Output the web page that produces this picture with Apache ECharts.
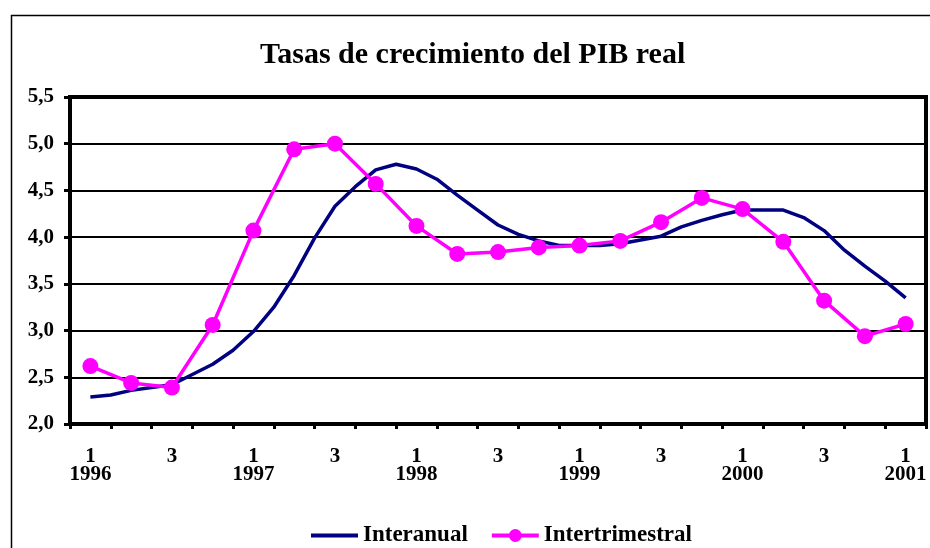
<!DOCTYPE html>
<html>
<head>
<meta charset="utf-8">
<script src="https://cdn.jsdelivr.net/npm/echarts@6/dist/echarts.min.js"></script>
<style>
html,body{margin:0;padding:0;background:#fff;}
#chart{width:930px;height:548px;}
</style>
</head>
<body>
<div id="chart"></div>
<script>
// Quarter tick labels (1996 Q1 .. 2001 Q1)
const quarterLabels = ['1\n1996','','3','','1\n1997','','3','','1\n1998','','3','','1\n1999','','3','','1\n2000','','3','','1\n2001'];
// Intertrimestral (quarterly, annualised) growth
const intertrimestral = [2.62,2.44,2.39,3.06,4.07,4.94,5.00,4.57,4.12,3.82,3.84,3.89,3.91,3.96,4.16,4.42,4.30,3.95,3.32,2.94,3.07];
// Interanual growth, sampled every half quarter from 1996 Q1 to 2001 Q1
const interanual = [2.29,2.31,2.36,2.39,2.42,2.53,2.64,2.79,2.99,3.25,3.59,3.99,4.33,4.54,4.72,4.78,4.73,4.62,4.45,4.29,4.13,4.03,3.96,3.91,3.91,3.91,3.93,3.97,4.01,4.11,4.18,4.24,4.29,4.29,4.29,4.21,4.07,3.86,3.69,3.53,3.35];
const yTicks = {min:2.0, max:5.5, step:0.5};

const FONT = '"Liberation Serif","Times New Roman",serif';
const chart = echarts.init(document.getElementById('chart'), null, {renderer:'canvas'});
chart.setOption({
  animation:false,
  backgroundColor:'#fff',
  graphic:[{type:'rect', left:9, top:13, shape:{width:1000,height:1000}, style:{fill:'none',stroke:'#000',lineWidth:1.5}, z:-1}],
  title:{text:'Tasas de crecimiento del PIB real', left:255, top:35,
    textStyle:{fontFamily:FONT,fontWeight:'bold',fontSize:30,color:'#000'}},
  legend:{left:306, top:519, itemWidth:47, itemHeight:16, itemGap:22,
    symbolKeepAspect:true,
    textStyle:{fontFamily:FONT,fontWeight:'bold',fontSize:23,color:'#000'},
    data:[
      {name:'Interanual', icon:'path://M0,0L47,0L47,4L0,4Z', itemStyle:{color:'#000080'}},
      {name:'Intertrimestral', lineStyle:{width:4}}
    ]},
  grid:{left:70, right:4, top:97, bottom:124, show:true, borderColor:'#000', borderWidth:4, backgroundColor:'transparent'},
  xAxis:[{
    type:'category', data:quarterLabels, boundaryGap:true,
    axisLine:{lineStyle:{color:'#000',width:4}},
    axisTick:{show:true, interval:0, length:5, lineStyle:{color:'#000',width:3}},
    axisLabel:{interval:0, margin:24, lineHeight:18, fontFamily:FONT, fontWeight:'bold', fontSize:21, color:'#000'},
    splitLine:{show:false}
  },{
    type:'value', min:-0.5, max:20.5, show:false,
    axisLine:{show:false}, splitLine:{show:false}
  }],
  yAxis:{type:'value', min:yTicks.min, max:yTicks.max, interval:yTicks.step,
    axisLine:{show:true,onZero:false,lineStyle:{color:'#000',width:4}},
    axisTick:{show:true,length:6,lineStyle:{color:'#000',width:3}},
    axisLabel:{margin:16, fontFamily:FONT, fontWeight:'bold', fontSize:21, color:'#000',
      formatter:v=>v.toFixed(1).replace('.',',')},
    splitLine:{show:true,lineStyle:{color:'#000',width:2}}
  },
  series:[{
    name:'Interanual', type:'line', xAxisIndex:1,
    data:interanual.map((v,i)=>[i*0.5,v]),
    symbol:'none', lineStyle:{color:'#000080',width:3.5}, itemStyle:{color:'#000080'}, z:2
  },{
    name:'Intertrimestral', type:'line', xAxisIndex:0,
    data:intertrimestral,
    symbol:'circle', symbolSize:16, lineStyle:{color:'#FF00FF',width:3.5}, itemStyle:{color:'#FF00FF'}, z:3
  }]
});
</script>
</body>
</html>
